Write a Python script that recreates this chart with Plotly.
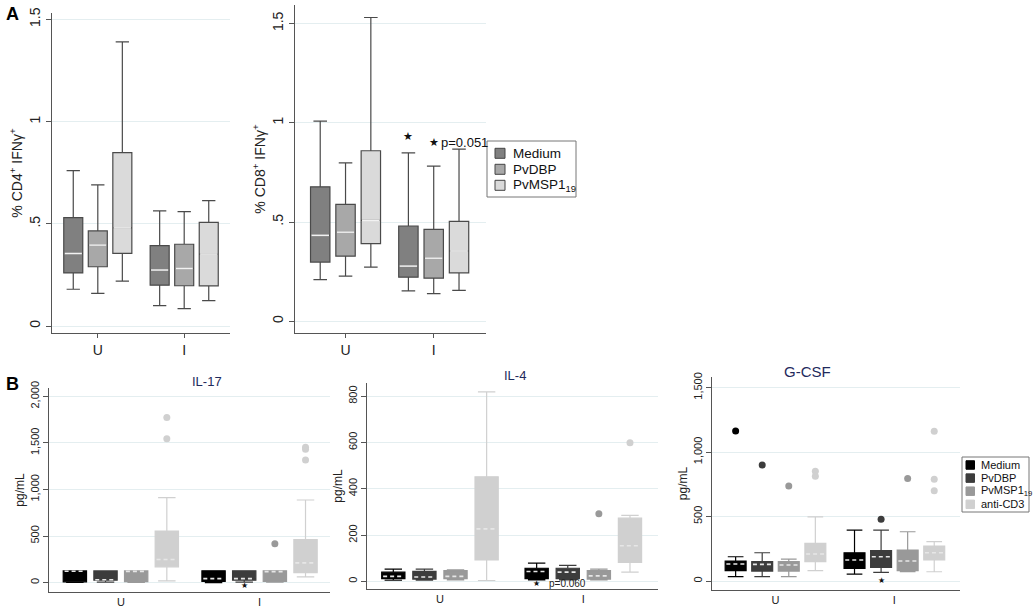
import plotly.graph_objects as go

W, H = 1034, 607
groups = ['U', 'I']

# ---- panel A: % IFN-gamma+ T cells, each list is [U, I] for one stimulus
a_names = ['Medium', 'PvDBP', 'PvMSP1<sub>19</sub>']
a_colors = ['#808080', '#a8a8a8', '#dadada']

cd4_lo = [[0.18, 0.10], [0.16, 0.085], [0.22, 0.124]]
cd4_q1 = [[0.26, 0.20], [0.29, 0.197], [0.355, 0.196]]
cd4_med = [[0.355, 0.274], [0.396, 0.282], [0.48, 0.352]]
cd4_q3 = [[0.53, 0.393], [0.465, 0.40], [0.848, 0.507]]
cd4_hi = [[0.76, 0.563], [0.69, 0.56], [1.39, 0.613]]

cd8_lo = [[0.21, 0.153], [0.227, 0.139], [0.273, 0.156]]
cd8_q1 = [[0.298, 0.222], [0.328, 0.217], [0.391, 0.244]]
cd8_med = [[0.433, 0.278], [0.449, 0.318], [0.508, 0.354]]
cd8_q3 = [[0.677, 0.48], [0.589, 0.463], [0.859, 0.503]]
cd8_hi = [[1.008, 0.848], [0.798, 0.781], [1.53, 0.867]]

# ---- panel B: cytokines (pg/mL)
b_names = ['Medium', 'PvDBP', 'PvMSP1<sub>19</sub>', 'anti-CD3']
b_colors = ['#000000', '#3c3c3c', '#999999', '#d0d0d0']

il17_lo = [[3, 0], [5, 4], [3, 5], [18, 61]]
il17_q1 = [[8, 14], [25, 25], [10, 14], [169, 108]]
il17_med = [[122, 43], [30, 43], [120, 118], [248, 212]]
il17_q3 = [[125, 126], [125, 126], [125, 126], [553, 463]]
il17_hi = [[125, 126], [126, 126], [126, 126], [912, 887]]
il17_out = [[[], []], [[], []], [[], [416]], [[1774, 1544], [1454, 1433, 1318]]]

il4_lo = [[5, 7], [6, 7], [7, 7], [4, 40]]
il4_q1 = [[12, 12], [10, 12], [12, 10], [93, 82]]
il4_med = [[22, 43], [19, 40], [22, 24], [227, 154]]
il4_q3 = [[40, 57], [43, 57], [47, 47], [452, 273]]
il4_hi = [[53, 79], [53, 69], [50, 53], [819, 285]]
il4_out = [[[], []], [[], []], [[], [292]], [[], [599]]]

gcsf_lo = [[34, 54], [34, 67], [34, 72], [80, 72]]
gcsf_q1 = [[80, 98], [77, 106], [77, 80], [150, 163]]
gcsf_med = [[132, 163], [129, 188], [124, 155], [209, 219]]
gcsf_q3 = [[155, 219], [150, 235], [150, 240], [292, 271]]
gcsf_hi = [[188, 395], [219, 395], [170, 382], [498, 305]]
gcsf_out = [[[1164], []], [[899], [478]], [[736], [795]], [[852, 813], [1162, 790, 700]]]

# significance marks: (group, stimulus, y, note)
cd8_marks = [(1, 0, 0.933, ''), (1, 1, 0.899, 'p=0.051')]
il17_marks = [(1, 1, -36, '')]
il4_marks = [(1, 0, -10, '')]
il4_notes = [(1, 1, -9, 'p=0.060')]
gcsf_marks = [(1, 0, -88, ''), (1, 1, 3, '')]

FONT = 'Arial, Liberation Sans, sans-serif'
GRID = '#e4eef0'

fig = go.Figure()


def pos(g, k, n, s):
    return g + (k - (n - 1) / 2) * s


def add_panel(ax, names, colors, lo, q1, med, q3, hi, s, w, style, out=None):
    n = len(names)
    xa = 'x' + ax
    ya = 'y' + ax
    for k in range(n):
        xs = [pos(g, k, n, s) for g in range(len(groups))]
        if style == 'A':
            lc, lw, ww = '#4a4a4a', 1.2, 0.7
        else:
            lc, lw, ww = colors[k], 1.2, 0.75
        fig.add_trace(go.Box(
            x=xs, q1=q1[k], median=med[k], q3=q3[k],
            lowerfence=lo[k], upperfence=hi[k],
            width=w, whiskerwidth=ww, fillcolor=colors[k],
            line=dict(color=lc, width=lw), boxpoints=False,
            name=names[k], showlegend=False,
            xaxis=xa, yaxis=ya, hoverinfo='skip'))
        mx, my = [], []
        for g, x in enumerate(xs):
            mx += [x - w / 2 + 0.01, x + w / 2 - 0.01, None]
            my += [med[k][g], med[k][g], None]
        fig.add_trace(go.Scatter(
            x=mx, y=my, mode='lines', showlegend=False, hoverinfo='skip',
            line=dict(color='#f2f2f2' if style == 'A' else '#e6e6e6', width=1.6,
                      dash='solid' if style == 'A' else '4px,3px'),
            xaxis=xa, yaxis=ya))
        if out is not None:
            ox, oy = [], []
            for g, x in enumerate(xs):
                for v in out[k][g]:
                    ox.append(x)
                    oy.append(v)
            if ox:
                fig.add_trace(go.Scatter(
                    x=ox, y=oy, mode='markers', showlegend=False,
                    marker=dict(color=colors[k], size=7),
                    xaxis=xa, yaxis=ya, hoverinfo='skip'))


def add_marks(ax, marks, n, s, size):
    for g, k, y, note in marks:
        x = pos(g, k, n, s)
        fig.add_annotation(x=x, y=y, xref='x' + ax, yref='y' + ax, text='★',
                           showarrow=False, yanchor='middle',
                           font=dict(size=size, color='#111', family='DejaVu Sans'))
        if note:
            fig.add_annotation(x=x, y=y, xref='x' + ax, yref='y' + ax, text=note,
                               showarrow=False, xanchor='left', yanchor='middle',
                               xshift=5, font=dict(size=13, color='#111', family=FONT))


def add_legend(names, colors, box, sx, sw, y0, step, tx, fs, edge):
    # boxed legend drawn in page pixels
    x0, x1, top, bottom = box
    fig.add_shape(type='rect', xref='paper', yref='paper', x0=x0 / W, x1=x1 / W,
                  y0=1 - bottom / H, y1=1 - top / H, fillcolor='white',
                  line=dict(color='#777', width=1))
    for i, (name, color) in enumerate(zip(names, colors)):
        cy = y0 + i * step
        fig.add_shape(type='rect', xref='paper', yref='paper',
                      x0=sx / W, x1=(sx + sw) / W,
                      y0=1 - (cy + sw / 2) / H, y1=1 - (cy - sw / 2) / H,
                      fillcolor=color, line=dict(color=edge or color, width=1))
        fig.add_annotation(x=tx / W, y=1 - cy / H, xref='paper', yref='paper',
                           text=name, showarrow=False, xanchor='left', yanchor='middle',
                           font=dict(size=fs, color='#111'))


# panel A
add_panel('', a_names, a_colors, cd4_lo, cd4_q1, cd4_med, cd4_q3, cd4_hi,
          0.284, 0.22, 'A')
add_panel('2', a_names, a_colors, cd8_lo, cd8_q1, cd8_med, cd8_q3, cd8_hi,
          0.287, 0.22, 'A')
add_marks('2', cd8_marks, 3, 0.287, 11)

# panel B
add_panel('3', b_names, b_colors, il17_lo, il17_q1, il17_med, il17_q3, il17_hi,
          0.221, 0.168, 'B', il17_out)
add_panel('4', b_names, b_colors, il4_lo, il4_q1, il4_med, il4_q3, il4_hi,
          0.217, 0.162, 'B', il4_out)
add_panel('5', b_names, b_colors, gcsf_lo, gcsf_q1, gcsf_med, gcsf_q3, gcsf_hi,
          0.2235, 0.176, 'B', gcsf_out)
add_marks('3', il17_marks, 4, 0.221, 8)
add_marks('4', il4_marks, 4, 0.217, 8)
add_marks('5', gcsf_marks, 4, 0.2235, 8)
for g, k, y, note in il4_notes:
    fig.add_annotation(x=pos(g, k, 4, 0.217), y=y, xref='x4', yref='y4', text=note,
                       showarrow=False, yanchor='middle',
                       font=dict(size=10, color='#222', family=FONT))

add_legend(a_names, a_colors, (487, 576, 141, 197), 495, 10, 153.3, 16, 511, 13.5, '#444')
add_legend(b_names, b_colors, (962, 1029, 457, 512), 966, 8.5, 465, 13.1, 979, 11, None)


def xdom(a, b):
    return [a / W, b / W]


def ydom(top, bottom):
    return [1 - bottom / H, 1 - top / H]


def yax(dom, rng, anchor, vals, text, title, fs, tfs, standoff):
    return dict(domain=dom, range=rng, anchor=anchor, tickvals=vals, ticktext=text,
                tickangle=-90, ticks='outside', ticklen=5, tickcolor='#555',
                showline=True, linecolor='#555', linewidth=1, showgrid=True,
                gridcolor=GRID, zeroline=False, tickfont=dict(size=fs, color='#222'),
                automargin=False,
                title=dict(text=title, font=dict(size=tfs, color='#222'), standoff=standoff))


def xax(dom, rng, anchor, fs, ticks):
    return dict(domain=dom, range=rng, anchor=anchor, tickvals=[0, 1], ticktext=groups,
                ticks=ticks, ticklen=4, tickcolor='#555', showline=True,
                linecolor='#555', linewidth=1, showgrid=False, zeroline=False,
                automargin=False, tickfont=dict(size=fs, color='#222'))


a_ticks = [0, 0.5, 1, 1.5]
a_text = ['0', '.5', '1', '1.5']

fig.update_layout(
    width=W, height=H, margin=dict(l=0, r=0, t=0, b=0),
    paper_bgcolor='white', plot_bgcolor='white',
    font=dict(family=FONT, color='#222'),
    boxmode='overlay', showlegend=False,
    xaxis=xax(xdom(52, 230), [-0.53, 1.53], 'y', 14, 'outside'),
    yaxis=yax(ydom(13, 333), [-0.034, 1.531], 'x', a_ticks, a_text,
              '% CD4<sup>+</sup> IFNγ<sup>+</sup>', 14, 14, 1),
    xaxis2=xax(xdom(295, 486), [-0.573, 1.593], 'y2', 14, 'outside'),
    yaxis2=yax(ydom(5, 333), [-0.059, 1.593], 'x2', a_ticks, a_text,
               '% CD8<sup>+</sup> IFNγ<sup>+</sup>', 14, 14, 1),
    xaxis3=xax(xdom(49, 330), [-0.518, 1.508], 'y3', 11, ''),
    yaxis3=yax(ydom(388, 592), [-101, 2090], 'x3', [0, 500, 1000, 1500, 2000],
               ['0', '500', '1,000', '1,500', '2,000'], 'pg/mL', 11, 12, 1),
    xaxis4=xax(xdom(367, 658), [-0.509, 1.521], 'y4', 11, ''),
    yaxis4=yax(ydom(383, 589), [-32.7, 857], 'x4', [0, 200, 400, 600, 800],
               ['0', '200', '400', '600', '800'], 'pg/mL', 11, 12, 1),
    xaxis5=xax(xdom(712, 960), [-0.534, 1.552], 'y5', 11, ''),
    yaxis5=yax(ydom(377, 590), [-69.7, 1582], 'x5', [0, 500, 1000, 1500],
               ['0', '500', '1,000', '1,500'], 'pg/mL', 11, 12, 1),
)

# panel letters and cytokine titles
fig.add_annotation(x=4 / W, y=1 - 2 / H, xref='paper', yref='paper', text='<b>A</b>',
                   showarrow=False, xanchor='left', yanchor='top',
                   font=dict(size=18, color='#000'))
fig.add_annotation(x=4 / W, y=1 - 372 / H, xref='paper', yref='paper', text='<b>B</b>',
                   showarrow=False, xanchor='left', yanchor='top',
                   font=dict(size=18, color='#000'))
for t, cx, cy, fs in [('IL-17', 190, 381, 13), ('IL-4', 515, 375, 13), ('G-CSF', 833, 371, 15)]:
    fig.add_annotation(x=cx / W, y=1 - cy / H, xref='paper', yref='paper', text=t,
                       showarrow=False, yanchor='middle',
                       font=dict(size=fs, color='#1f2a5c'))

# the page body has a default margin; drop it so the figure fills the window
fig.write_html('out.html', config={'displayModeBar': False},
               post_script="document.body.style.margin = '0px';")
